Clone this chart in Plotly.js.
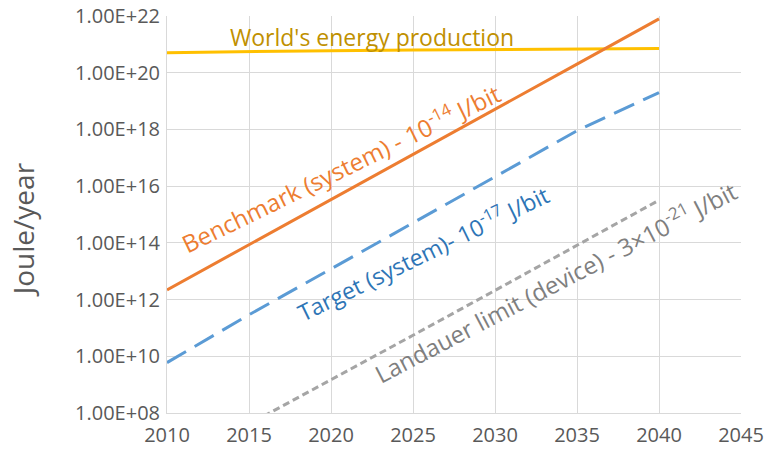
<!DOCTYPE html>
<html>
<head>
<meta charset="utf-8">
<script src="https://cdn.plot.ly/plotly-3.0.1.min.js"></script>
<style>html,body{margin:0;padding:0;background:#fff;}#chart{width:764px;height:455px;}</style>
</head>
<body>
<div id="chart"></div>
<script>
// Years (x) and values (Joule/year)
const years = [2010, 2015, 2020, 2025, 2030, 2035, 2040];
const worldEnergy = [5.1e20, 5.6e20, 6.0e20, 6.3e20, 6.6e20, 6.9e20, 7.2e20];
const benchmark = [2.2e12, 8.5e13, 3.4e15, 1.3e17, 5.1e18, 2.0e20, 7.9e21];
const target = [6.0e9, 2.9e11, 1.2e13, 5.0e14, 2.1e16, 9.0e17, 2.0e19];
const landauer = [1.1e6, 4.0e7, 1.5e9, 5.5e10, 2.1e12, 8.0e13, 3.2e15];

const yTickVals = [1e8, 1e10, 1e12, 1e14, 1e16, 1e18, 1e20, 1e22];
const yTickText = ["1.00E+08", "1.00E+10", "1.00E+12", "1.00E+14", "1.00E+16", "1.00E+18", "1.00E+20", "1.00E+22"];

const yTitle = "Joule/year";
const labelWorld = "World's energy production";
const labelBench = "Benchmark (system) - 10<sup>-14</sup> J/bit";
const labelTarget = "Target (system)- 10<sup>-17</sup> J/bit";
const labelLandauer = "Landauer limit (device) - 3×10<sup>-21</sup> J/bit";

const FONT = "'Open Sans', 'Noto Sans', sans-serif";

const traces = [
  {x: years, y: worldEnergy, mode: "lines", line: {color: "#FFC000", width: 3}, name: labelWorld},
  {x: years, y: benchmark, mode: "lines", line: {color: "#ED7D31", width: 3}, name: labelBench},
  {x: years, y: target, mode: "lines", line: {color: "#5B9BD5", width: 3, dash: "22px,10px"}, name: labelTarget},
  {x: years, y: landauer, mode: "lines", line: {color: "#A5A5A5", width: 3, dash: "7px,4px"}, name: labelLandauer}
];

const layout = {
  width: 764, height: 455,
  margin: {l: 167, r: 23, t: 16, b: 42},
  paper_bgcolor: "#ffffff", plot_bgcolor: "#ffffff",
  showlegend: false,
  font: {family: FONT, color: "#595959", size: 20},
  xaxis: {
    range: [2010, 2045], tickmode: "linear", tick0: 2010, dtick: 5,
    showgrid: true, gridcolor: "#D9D9D9", gridwidth: 1,
    showline: true, linecolor: "#D9D9D9", linewidth: 1,
    zeroline: false, ticks: "", ticklen: 0, ticklabelstandoff: 4,
    tickfont: {family: FONT, size: 20, color: "#595959"}
  },
  yaxis: {
    type: "log", range: [8, 22],
    tickmode: "array", tickvals: yTickVals, ticktext: yTickText,
    showgrid: true, gridcolor: "#D9D9D9", gridwidth: 1,
    showline: true, linecolor: "#D9D9D9", linewidth: 1,
    zeroline: false, ticks: "", ticklen: 0, ticklabelstandoff: 2,
    tickfont: {family: FONT, size: 20, color: "#595959"}
  },
  annotations: [
    {x: -0.2513, y: 0.4622, xref: "paper", yref: "paper", text: yTitle, showarrow: false, textangle: -90,
     font: {family: FONT, size: 28, color: "#595959"}, xanchor: "center", yanchor: "middle"},
    {x: 2022.49, y: 21.242, xref: "x", yref: "y", text: labelWorld, showarrow: false,
     font: {family: FONT, size: 23, color: "#BF9000"}, xanchor: "center", yanchor: "middle"},
    {x: 2020.57, y: 16.675, xref: "x", yref: "y", text: labelBench, showarrow: false, textangle: -26,
     font: {family: FONT, size: 24, color: "#ED7D31"}, xanchor: "center", yanchor: "middle"},
    {x: 2025.58, y: 13.642, xref: "x", yref: "y", text: labelTarget, showarrow: false, textangle: -26,
     font: {family: FONT, size: 23, color: "#2E75B6"}, xanchor: "center", yanchor: "middle"},
    {x: 2033.64, y: 12.655, xref: "x", yref: "y", text: labelLandauer, showarrow: false, textangle: -27.5,
     font: {family: FONT, size: 24, color: "#7F7F7F"}, xanchor: "center", yanchor: "middle"}
  ]
};

Plotly.newPlot("chart", traces, layout, {displayModeBar: false, staticPlot: true});
</script>
</body>
</html>
